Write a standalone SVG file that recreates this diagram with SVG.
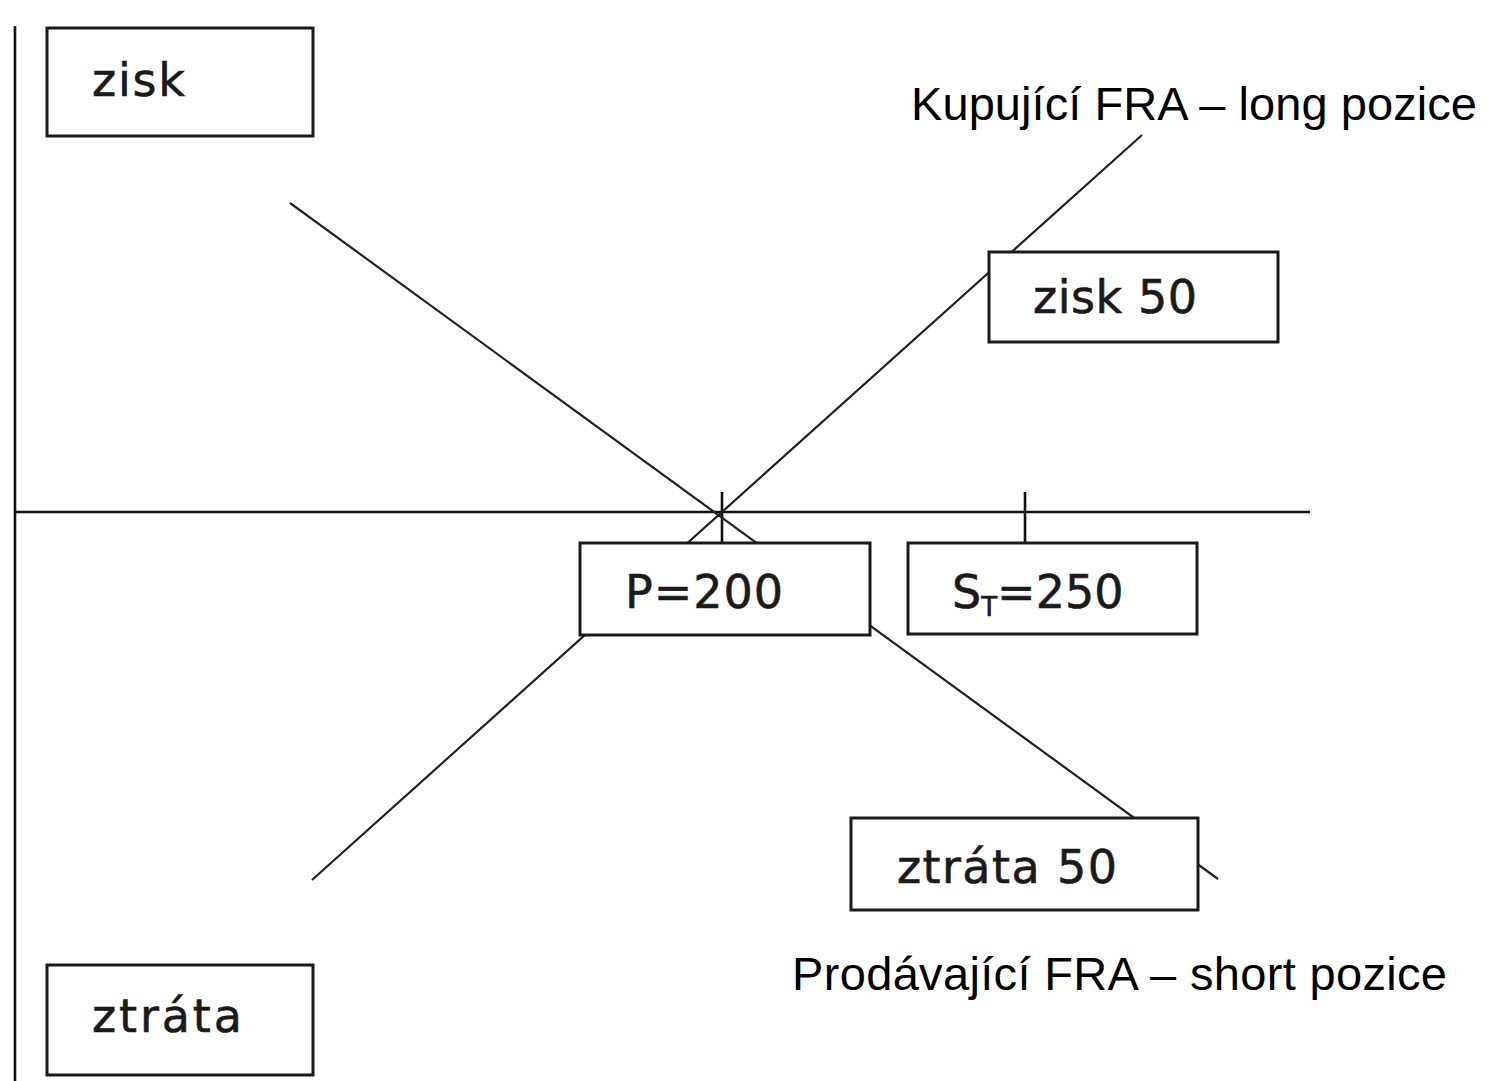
<svg xmlns="http://www.w3.org/2000/svg" width="1493" height="1081" viewBox="0 0 1493 1081">
<style>
.box{fill:#fff;stroke:#1a1a1a;stroke-width:3}
.lbl{font-family:"DejaVu Sans",sans-serif;font-size:46px;fill:#1a1a1a;stroke:#1a1a1a;stroke-width:0.6}
.cap{font-family:"Liberation Sans",Arial,sans-serif;font-size:47px;fill:#000}
.ln{stroke:#222;stroke-width:2.2;fill:none}
.ax{stroke:#111;stroke-width:2.6;fill:none}
</style>
<rect width="1493" height="1081" fill="#fff"/>
<g id="connectors">
<line class="ax" x1="15" y1="26" x2="15" y2="1081"/>
<line class="ax" x1="15" y1="512" x2="1310" y2="512"/>
<line class="ax" x1="722" y1="492" x2="722" y2="543"/>
<line class="ax" x1="1025" y1="492" x2="1025" y2="543"/>
<line class="ln" x1="290" y1="203" x2="1218" y2="879"/>
<line class="ln" x1="312" y1="880" x2="1142" y2="135"/>
</g>
<g id="zisk"><rect class="box" x="47" y="28" width="266" height="108"/><text class="lbl" x="92" y="96" textLength="93">zisk</text></g>
<g id="ztrata"><rect class="box" x="47" y="965" width="266" height="110"/><text class="lbl" x="92" y="1032" textLength="150">ztráta</text></g>
<g id="zisk50"><rect class="box" x="989" y="252" width="289" height="90"/><text class="lbl" x="1033" y="313" textLength="164">zisk 50</text></g>
<g id="p200"><rect class="box" x="580" y="543" width="290" height="92"/><text class="lbl" x="625" y="608" textLength="158">P=200</text></g>
<g id="st250"><rect class="box" x="908" y="543" width="289" height="91"/><text class="lbl" x="952" y="608">S<tspan font-size="26" dy="8">T</tspan><tspan dy="-8">=250</tspan></text></g>
<g id="ztrata50"><rect class="box" x="851" y="818" width="347" height="92"/><text class="lbl" x="897" y="883" textLength="220">ztráta 50</text></g>
<g id="long"><text class="cap" x="911" y="120" textLength="566">Kupující FRA – long pozice</text></g>
<g id="short"><text class="cap" x="792" y="990" textLength="655">Prodávající FRA – short pozice</text></g>
</svg>
